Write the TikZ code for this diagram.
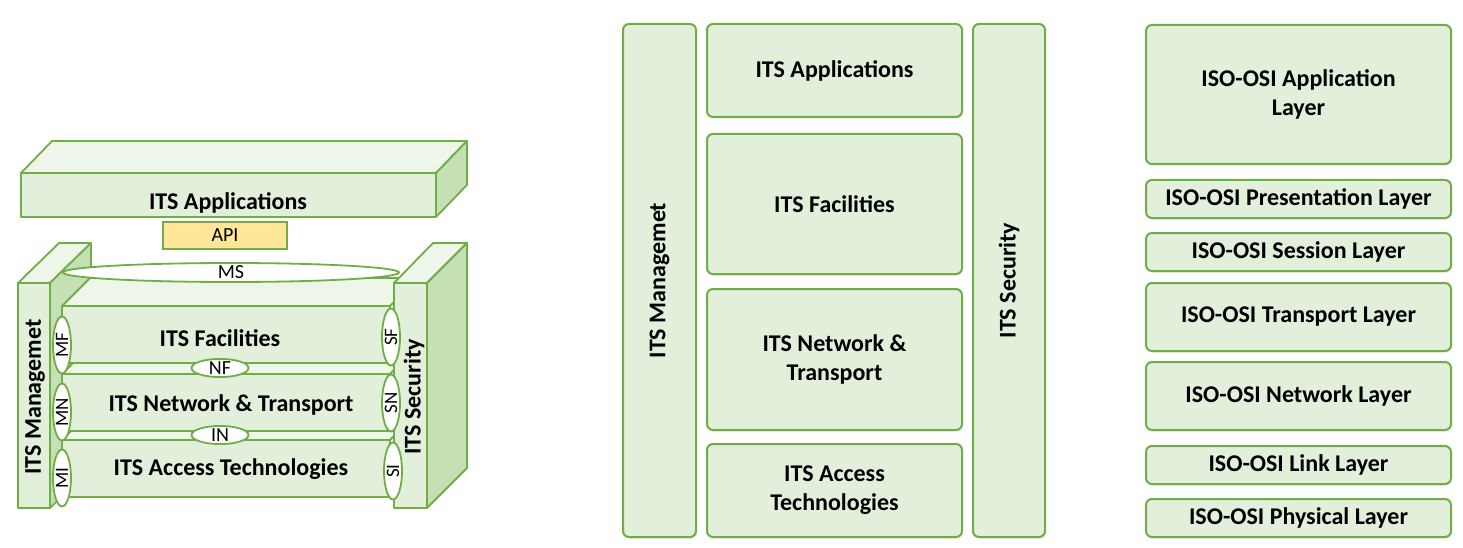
\documentclass[tikz,border=0pt]{standalone}
\usepackage{fontspec}
\setmainfont{Carlito}
\usetikzlibrary{shapes.geometric,shadows}
\definecolor{itsline}{RGB}{112,173,71}
\definecolor{itsfill}{RGB}{226,239,218}
\definecolor{itstop}{RGB}{238,245,233}
\definecolor{itsside}{RGB}{197,224,180}
\definecolor{itsapi}{RGB}{255,230,153}

\begin{document}
\begin{tikzpicture}[x=1pt, y=-1pt,
  every node/.style={font=\fontsize{24}{29}\selectfont\bfseries},
  face/.style={draw=itsline, fill=itsfill, line width=1.8pt, line join=round},
  block/.style={draw=itsline, fill=itsfill, line width=2pt, rounded corners=6pt, inner sep=0pt, align=center,
    drop shadow={shadow xshift=1pt, shadow yshift=-2pt, opacity=0.12}},
  sap/.style={ellipse, draw=itsline, fill=white, line width=1.8pt, inner sep=0pt, font=\fontsize{20}{22}\selectfont}]
\useasboundingbox (0,0) rectangle (1463,548);
% left: 3D view of the ITS stack
\draw[face, fill=itstop] (21,173) -- (52,141) -- (467,141) -- (436,173) -- cycle;
\draw[face, fill=itsside] (436,173) -- (467,141) -- (467,185) -- (436,217) -- cycle;
\draw[face] (21,173) rectangle (436,217);
\node (apps3d) at (228,203) {ITS Applications};
\node[draw=itsline, fill=itsapi, line width=1.8pt, minimum width=124, minimum height=27, inner sep=0pt,
  font=\fontsize{20}{22}\selectfont] (api) at (225,235.5) {API};
\draw[face, fill=itstop] (18,283) -- (59,243) -- (91,243) -- (50,283) -- cycle;
\draw[face, fill=itsside] (50,283) -- (91,243) -- (91,468) -- (50,508) -- cycle;
\draw[face] (18,283) rectangle (50,508);
\node[rotate=90] (mgmt3d) at (35,397) {ITS Managemet};
\foreach \yt/\yb in {440/497, 374/431, 306/363} {
  \draw[face, fill=itstop] (62,\yt) -- (90,\yt-28) -- (418,\yt-28) -- (390,\yt) -- cycle;
  \draw[face] (62,\yt) rectangle (390,\yb);
}
\node (fac3d) at (220,338) {ITS Facilities};
\node (net3d) at (231,405) {ITS Network \& Transport};
\node (acc3d) at (231,469) {ITS Access Technologies};
\draw[face, fill=itstop] (394,283) -- (433,243) -- (467,243) -- (427,283) -- cycle;
\draw[face, fill=itsside] (427,283) -- (467,243) -- (467,468) -- (427,508) -- cycle;
\draw[face] (394,283) rectangle (427,508);
\node[rotate=90] (sec3d) at (414,397) {ITS Security};
\node[sap, minimum width=336, minimum height=19] (ms) at (231,272.5) {MS};
\foreach \nm/\xc/\yc in {MF/62/345, MN/62/412, MI/62/478, SF/391/337, SN/391/403, SI/393/471}
  \node[sap, rotate=90, minimum width=57, minimum height=18, font=\fontsize{19}{20}\selectfont] (\nm) at (\xc,\yc) {\nm};
\foreach \nm/\yc in {NF/368, IN/435}
  \node[sap, minimum width=57, minimum height=16] (\nm) at (220,\yc) {\nm};
% middle: ITS station layers
\node[block, minimum width=73, minimum height=513] (mgmt) at (659.5,280.5) {\rotatebox{90}{ITS Managemet}};
\node[block, minimum width=255, minimum height=93] (apps) at (834.5,70.5) {ITS Applications};
\node[block, minimum width=255, minimum height=140] (fac) at (834.5,204) {ITS Facilities};
\node[block, minimum width=255, minimum height=141] (net) at (834.5,359.5) {ITS Network \&\\Transport};
\node[block, minimum width=255, minimum height=93] (acc) at (834.5,490.5) {ITS Access\\Technologies};
\node[block, minimum width=72, minimum height=513] (sec) at (1009,280.5) {\rotatebox{90}{ITS Security}};
% right: ISO-OSI layers
\foreach \nm/\yc/\hh/\txt in {osiapp/94.5/139/{ISO-OSI Application\\Layer}, osipres/199/38/{ISO-OSI Presentation Layer},
    osisess/252/38/{ISO-OSI Session Layer}, ositrans/317/68/{ISO-OSI Transport Layer},
    osinet/396/68/{ISO-OSI Network Layer}, osilink/465/38/{ISO-OSI Link Layer}, osiphys/518/38/{ISO-OSI Physical Layer}}
  \node[block, minimum width=305, minimum height=\hh] (\nm) at (1298.5,\yc) {\txt};
\end{tikzpicture}
\end{document}
